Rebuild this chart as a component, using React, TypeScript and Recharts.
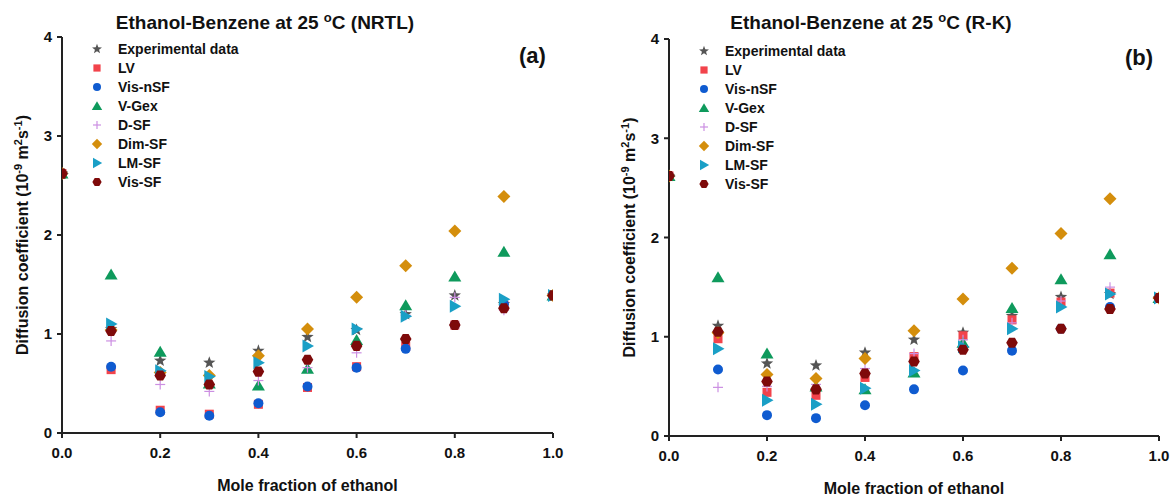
import React from "react";
import { ScatterChart, Scatter, XAxis, YAxis, Legend, Label } from "recharts";

const xValues = [0, 0.1, 0.2, 0.3, 0.4, 0.5, 0.6, 0.7, 0.8, 0.9, 1.0];
const seriesNames = ["Experimental data", "LV", "Vis-nSF", "V-Gex", "D-SF", "Dim-SF", "LM-SF", "Vis-SF"];
const seriesColors = ["#555555", "#F2434B", "#0F5BD0", "#0E9A5C", "#CC8FE2", "#D48E0C", "#1A9FC6", "#7E0A0A"];
const seriesShapes = ["star", "square", "circle", "triangle", "cross", "diamond", "right", "hexagon"];
const xTicks = [0, 0.2, 0.4, 0.6, 0.8, 1.0];
const yTicks = [0, 1, 2, 3, 4];

// (a) NRTL
const nrtlExp = [2.62, 1.05, 0.73, 0.71, 0.83, 0.97, 1.04, 1.2, 1.39, 1.3, 1.39];
const nrtlLV = [2.62, 0.64, 0.23, 0.19, 0.29, 0.46, 0.67, 0.875, 1.09, 1.29, 1.39];
const nrtlVisNSF = [2.62, 0.67, 0.21, 0.175, 0.3, 0.47, 0.66, 0.85, 1.09, 1.3, 1.39];
const nrtlVGex = [2.62, 1.6, 0.82, 0.5, 0.48, 0.65, 0.94, 1.29, 1.58, 1.83, 1.39];
const nrtlDSF = [2.62, 0.93, 0.49, 0.42, 0.53, 0.66, 0.81, 1.19, 1.37, 1.24, 1.39];
const nrtlDimSF = [2.62, 1.04, 0.61, 0.58, 0.78, 1.05, 1.37, 1.69, 2.04, 2.39, 1.39];
const nrtlLMSF = [2.62, 1.1, 0.63, 0.57, 0.71, 0.88, 1.05, 1.18, 1.28, 1.35, 1.39];
const nrtlVisSF = [2.62, 1.03, 0.58, 0.49, 0.62, 0.74, 0.88, 0.95, 1.09, 1.26, 1.39];

// (b) R-K
const rkExp = [2.62, 1.11, 0.73, 0.71, 0.84, 0.97, 1.04, 1.21, 1.4, 1.43, 1.39];
const rkLV = [2.62, 0.98, 0.44, 0.41, 0.59, 0.8, 1.01, 1.17, 1.35, 1.44, 1.39];
const rkVisNSF = [2.62, 0.67, 0.21, 0.18, 0.31, 0.47, 0.66, 0.86, 1.08, 1.3, 1.39];
const rkVGex = [2.62, 1.6, 0.83, 0.5, 0.47, 0.64, 0.94, 1.29, 1.58, 1.83, 1.39];
const rkDSF = [2.62, 0.49, 0.5, 0.52, 0.68, 0.83, 0.97, 1.14, 1.36, 1.5, 1.39];
const rkDimSF = [2.62, 1.04, 0.62, 0.58, 0.78, 1.06, 1.38, 1.69, 2.04, 2.39, 1.39];
const rkLMSF = [2.62, 0.88, 0.36, 0.32, 0.48, 0.66, 0.9, 1.08, 1.3, 1.43, 1.39];
const rkVisSF = [2.62, 1.05, 0.55, 0.47, 0.63, 0.75, 0.87, 0.94, 1.08, 1.28, 1.39];

const nrtlSeries = [nrtlExp, nrtlLV, nrtlVisNSF, nrtlVGex, nrtlDSF, nrtlDimSF, nrtlLMSF, nrtlVisSF];
const rkSeries = [rkExp, rkLV, rkVisNSF, rkVGex, rkDSF, rkDimSF, rkLMSF, rkVisSF];

const FONT = "'Liberation Sans', Arial, sans-serif";

const Marker = ({ cx, cy, kind, color, s = 1 }: any) => {
  if (cx == null || cy == null) return null;
  switch (kind) {
    case "star": {
      const pts: string[] = [];
      for (let i = 0; i < 10; i++) {
        const r = (i % 2 === 0 ? 6.5 : 2.7) * s;
        const a = -Math.PI / 2 + (i * Math.PI) / 5;
        pts.push(`${cx + r * Math.cos(a)},${cy + r * Math.sin(a)}`);
      }
      return <polygon points={pts.join(" ")} fill={color} />;
    }
    case "square":
      return <rect x={cx - 4.5 * s} y={cy - 4.5 * s} width={9 * s} height={9 * s} fill={color} />;
    case "circle":
      return <circle cx={cx} cy={cy} r={5 * s} fill={color} />;
    case "triangle":
      return <polygon points={`${cx},${cy - 6 * s} ${cx + 6.5 * s},${cy + 5 * s} ${cx - 6.5 * s},${cy + 5 * s}`} fill={color} />;
    case "cross":
      return (
        <g stroke={color} strokeWidth={1.2}>
          <line x1={cx - 5 * s} y1={cy} x2={cx + 5 * s} y2={cy} />
          <line x1={cx} y1={cy - 5 * s} x2={cx} y2={cy + 5 * s} />
        </g>
      );
    case "diamond":
      return <polygon points={`${cx},${cy - 6.5 * s} ${cx + 6.5 * s},${cy} ${cx},${cy + 6.5 * s} ${cx - 6.5 * s},${cy}`} fill={color} />;
    case "right":
      return <polygon points={`${cx - 5 * s},${cy - 6.5 * s} ${cx + 6.5 * s},${cy} ${cx - 5 * s},${cy + 6.5 * s}`} fill={color} />;
    case "hexagon": {
      const pts: string[] = [];
      for (let i = 0; i < 6; i++) {
        const a = (i * Math.PI) / 3;
        pts.push(`${cx + 5.8 * s * Math.cos(a)},${cy + 5.8 * s * Math.sin(a)}`);
      }
      return <polygon points={pts.join(" ")} fill={color} />;
    }
  }
  return null;
};

const LegendBox = () => (
  <div style={{ fontFamily: FONT, fontWeight: "bold", fontSize: 14, color: "#111" }}>
    {seriesNames.map((n, i) => (
      <div key={n} style={{ height: 19, display: "flex", alignItems: "center" }}>
        <svg width={14} height={14} style={{ marginRight: 14 }}>
          <Marker cx={7} cy={7} kind={seriesShapes[i]} color={seriesColors[i]} s={0.8} />
        </svg>
        <span>{n}</span>
      </div>
    ))}
  </div>
);

type PanelProps = {
  title: string;
  suffix: string;
  tag: string;
  series: number[][];
  left: number;
  width: number;
  margin: { top: number; right: number; left: number; bottom: number };
  titleX: number;
};

const Panel = ({ title, suffix, tag, series, left, width, margin, titleX }: PanelProps) => {
  const plotRight = width - margin.right;
  return (
    <div style={{ position: "absolute", left, top: 0, width, height: 497 }}>
      <ScatterChart width={width} height={497} margin={margin}>
        <XAxis
          type="number"
          dataKey="x"
          domain={[0, 1]}
          ticks={xTicks}
          allowDataOverflow
          height={30}
          tickFormatter={(v: number) => v.toFixed(1)}
          tick={{ fontFamily: FONT, fontWeight: "bold", fontSize: 15, fill: "#111" }}
          tickMargin={9}
          tickSize={5}
          stroke="#222"
          strokeWidth={2}
        >
          <Label
            content={({ viewBox }: any) => (
              <text
                x={viewBox.x + viewBox.width / 2}
                y={viewBox.y + viewBox.height + 28}
                textAnchor="middle"
                fontFamily={FONT}
                fontWeight="bold"
                fontSize={16}
                fill="#111"
              >
                Mole fraction of ethanol
              </text>
            )}
          />
        </XAxis>
        <YAxis
          type="number"
          dataKey="y"
          domain={[0, 4]}
          ticks={yTicks}
          allowDataOverflow
          width={40}
          tick={{ fontFamily: FONT, fontWeight: "bold", fontSize: 15, fill: "#111" }}
          tickMargin={5}
          tickSize={5}
          stroke="#222"
          strokeWidth={2}
        >
          <Label
            content={({ viewBox }: any) => {
              const cx = viewBox.x + 6;
              const cy = viewBox.y + viewBox.height / 2;
              return (
                <text
                  transform={`translate(${cx},${cy}) rotate(-90)`}
                  textAnchor="middle"
                  fontFamily={FONT}
                  fontWeight="bold"
                  fontSize={16}
                  fill="#111"
                >
                  Diffusion coefficient (10
                  <tspan dy={-6} fontSize={11}>-9</tspan>
                  <tspan dy={6}> m</tspan>
                  <tspan dy={-6} fontSize={11}>2</tspan>
                  <tspan dy={6}>s</tspan>
                  <tspan dy={-6} fontSize={11}>-1</tspan>
                  <tspan dy={6}>)</tspan>
                </text>
              );
            }}
          />
        </YAxis>
        <XAxis xAxisId="top" orientation="top" type="number" domain={[0, 1]} height={0} tick={false} tickLine={false} stroke="#222" strokeWidth={2} />
        <YAxis yAxisId="right" orientation="right" type="number" domain={[0, 4]} width={0} tick={false} tickLine={false} stroke="#222" strokeWidth={2} />
        <Legend
          layout="vertical"
          align="center"
          verticalAlign="middle"
          wrapperStyle={{ left: margin.left + 40 + 28, top: margin.top + 2, width: 200, height: 160 }}
          content={() => <LegendBox />}
        />
        {series.map((vals, i) => (
          <Scatter
            key={seriesNames[i]}
            name={seriesNames[i]}
            data={xValues.map((x, j) => ({ x, y: vals[j] }))}
            fill={seriesColors[i]}
            isAnimationActive={false}
            shape={(p: any) => <Marker cx={p.cx} cy={p.cy} kind={seriesShapes[i]} color={seriesColors[i]} />}
          />
        ))}
      </ScatterChart>
      <div
        style={{
          position: "absolute",
          left: titleX - 200,
          width: 400,
          top: 10,
          textAlign: "center",
          fontFamily: FONT,
          fontWeight: "bold",
          fontSize: 19,
          color: "#111",
          whiteSpace: "nowrap",
        }}
      >
        {title} <sup style={{ fontSize: 13 }}>o</sup>C {suffix}
      </div>
      <div
        style={{
          position: "absolute",
          left: plotRight - 34,
          top: margin.top + 6,
          fontFamily: FONT,
          fontWeight: "bold",
          fontSize: 22,
          color: "#111",
        }}
      >
        {tag}
      </div>
    </div>
  );
};

export default function App() {
  return (
    <div style={{ position: "absolute", left: 0, top: 0, width: 1173, height: 497, background: "#fff" }}>
      <Panel
        title="Ethanol-Benzene at 25"
        suffix="(NRTL)"
        tag="(a)"
        series={nrtlSeries}
        left={0}
        width={580}
        margin={{ top: 37, right: 27, left: 22, bottom: 34 }}
        titleX={265}
      />
      <Panel
        title="Ethanol-Benzene at 25"
        suffix="(R-K)"
        tag="(b)"
        series={rkSeries}
        left={600}
        width={573}
        margin={{ top: 39, right: 14, left: 29, bottom: 31 }}
        titleX={271}
      />
    </div>
  );
}
